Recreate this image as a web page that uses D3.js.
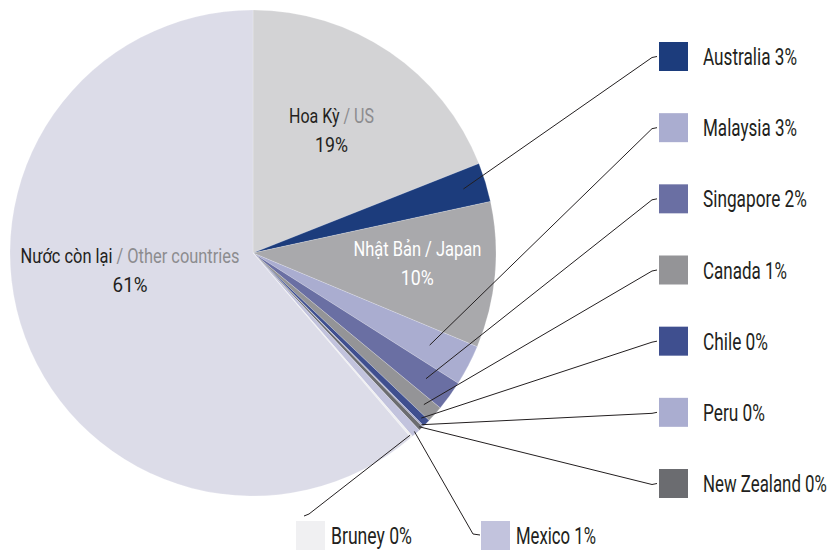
<!DOCTYPE html>
<html><head><meta charset="utf-8">
<script src="https://cdn.jsdelivr.net/npm/d3@7"></script>
<style>
body{margin:0;background:#fff;}
text{font-family:Roboto,"Noto Sans",sans-serif;}
</style></head>
<body><svg id="c" width="830" height="552"></svg>
<script>
const names = ["US","Australia","Japan","Malaysia","Singapore","Canada","Chile","Peru","New Zealand","Mexico","Bruney","Other"];
const values = [19,2.6,9.7,2.7,2.0,1.1,0.5,0.1,0.3,0.6,0.15,61.25];
const colors = ["#d3d3d5","#1c3c7c","#a9a9ac","#aaadd0","#6a6fa3","#949497","#3f4f8f","#aaadd0","#6b6c70","#c2c3dd","#f0f0f2","#dcdce8"];
const legendLabels = ["","Australia 3%","","Malaysia 3%","Singapore 2%","Canada 1%","Chile 0%","Peru 0%","New Zealand 0%","Mexico 1%","Bruney 0%",""];
// condensed-font widths of the legend texts (px)
const legendWidths = [0,94,0,94,104,84,65,62,124,80,81,0];

const svg = d3.select("#c");
const cx = 253, cy = 253, R = 243;
const g = svg.append("g").attr("transform",`translate(${cx},${cy})`);
const pie = d3.pie().sort(null).value(d=>d)(values);
const arc = d3.arc().innerRadius(0).outerRadius(R);
g.selectAll("path").data(pie).enter().append("path")
  .attr("d",arc).attr("fill",(d,i)=>colors[i])
  .attr("stroke","#ffffff").attr("stroke-width",0.4).attr("stroke-opacity",0.5);

function polar(a,r){return [cx+r*Math.sin(a), cy-r*Math.cos(a)];}
function mid(i){return (pie[i].startAngle+pie[i].endAngle)/2;}

// text squeezed horizontally to mimic a condensed face
function label(x,y,parts,w,size,anchor){
  const t = svg.append("text").attr("x",0).attr("y",0).attr("font-size",size)
    .attr("text-anchor",anchor||"start").attr("xml:space","preserve");
  parts.forEach(p=>t.append("tspan").attr("fill",p[1]).text(p[0]));
  const len = t.node().getComputedTextLength();
  t.attr("transform",`translate(${x},${y}) scale(${w/len},1)`);
  return t;
}

// right legend
const rightItems = [1,3,4,5,6,7,8];
const leaderR = {1:0.905,3:0.82,4:0.88,5:0.94,6:0.97,7:0.99,8:0.99};
const lx = 659, sq = 29;
const ly = d3.scalePoint().domain(rightItems).range([56.5,483.5]);
rightItems.forEach(i=>{
  const ym = ly(i);
  const p = polar(mid(i), R*leaderR[i]);
  svg.append("polyline").attr("points",`${p[0]},${p[1]} ${lx-7},${ym+1} ${lx-2},${ym}`)
    .attr("fill","none").attr("stroke","#231f20").attr("stroke-width",1);
  svg.append("rect").attr("x",lx).attr("y",ym-sq/2).attr("width",sq).attr("height",sq).attr("fill",colors[i]);
  label(lx+44, ym+8.5, [[legendLabels[i],"#231f20"]], legendWidths[i], 23);
});
// bottom legend
const bottom = [{i:9,x:481,end:[473,534],tail:[480,535]},{i:10,x:296,end:[309,514],tail:[304,516]}];
bottom.forEach(b=>{
  const p = polar(mid(b.i), R*0.99);
  svg.append("polyline").attr("points",`${p[0]},${p[1]} ${b.end[0]},${b.end[1]} ${b.tail[0]},${b.tail[1]}`)
    .attr("fill","none").attr("stroke","#231f20").attr("stroke-width",1);
  svg.append("rect").attr("x",b.x).attr("y",521).attr("width",sq).attr("height",sq).attr("fill",colors[b.i]);
  label(b.x+35, 544, [[legendLabels[b.i],"#231f20"]], legendWidths[b.i], 23);
});

// in-slice labels
const inLabels = [
  {i:0, r:0.575, da:0, a:"Hoa Kỳ", b:" / US", w:85, pct:"19%", wp:33, c:"#231f20", c2:"#8c8c8f"},
  {i:2, r:0.68, da:0.002, a:"Nhật Bản / Japan", b:"", w:128, pct:"10%", wp:33, c:"#ffffff", c2:"#ffffff"},
  {i:11, r:0.516, da:0.025, a:"Nước còn lại", b:" / Other countries", w:219, pct:"61%", wp:35, c:"#231f20", c2:"#8c8c8f"}
];
inLabels.forEach(l=>{
  const p = polar(mid(l.i)+l.da*2*Math.PI, R*l.r);
  const parts = [[l.a,l.c]];
  if(l.b) parts.push([l.b,l.c2]);
  label(p[0], p[1]-14, parts, l.w, 21, "middle");
  label(p[0], p[1]+15, [[l.pct,l.c]], l.wp, 21, "middle");
});
</script></body></html>
